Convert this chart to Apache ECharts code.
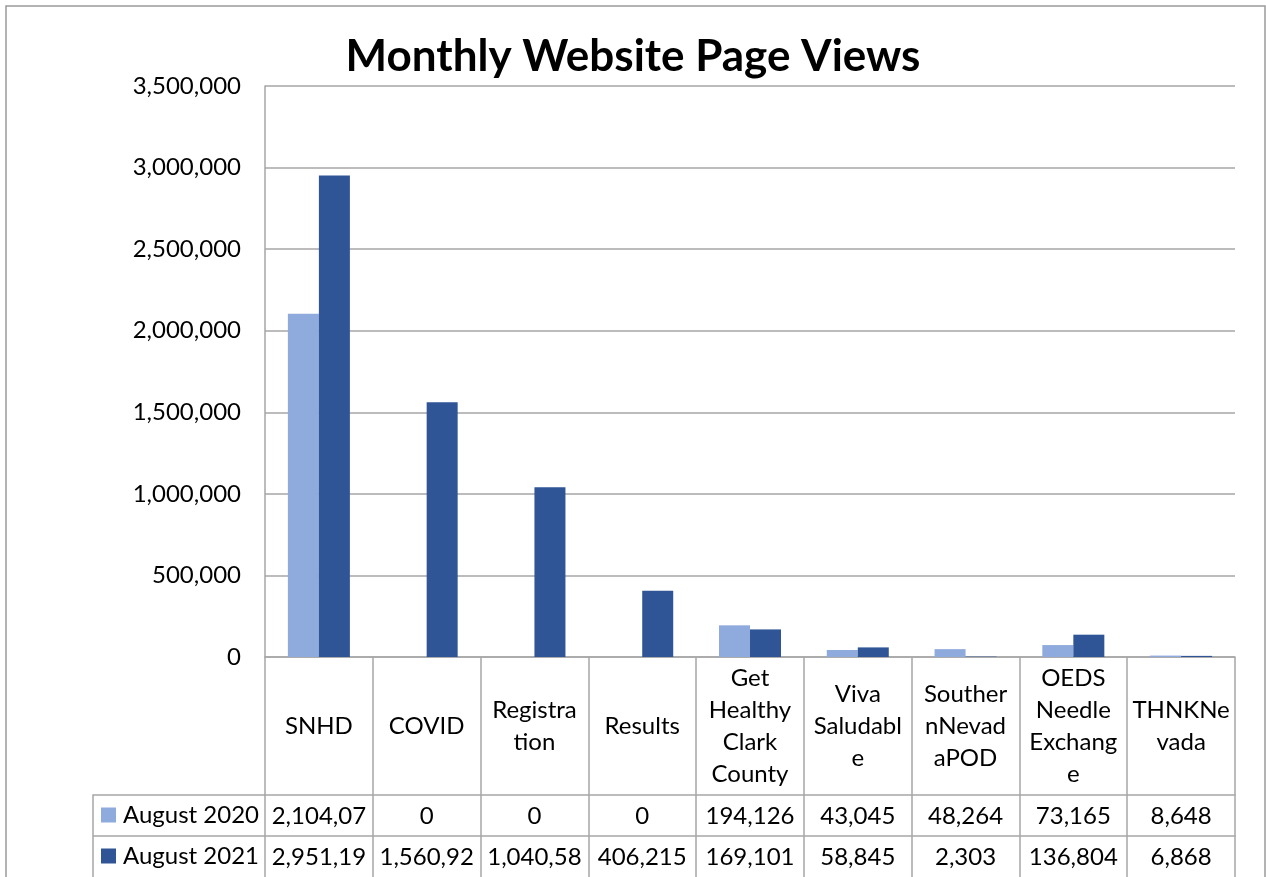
<!DOCTYPE html>
<html>
<head>
<meta charset="utf-8">
<title>Monthly Website Page Views</title>
<script src="https://cdn.jsdelivr.net/npm/echarts@6/dist/echarts.min.js"></script>
<style>
  html, body { margin: 0; padding: 0; background: #fff; }
  #main { width: 1266px; height: 877px; }
</style>
</head>
<body>
<div id="main"></div>
<script>
// 数据
var categories = ['SNHD', 'COVID', 'Registra\ntion', 'Results', 'Get\nHealthy\nClark\nCounty',
	'Viva\nSaludabl\ne', 'Souther\nnNevad\naPOD', 'OEDS\nNeedle\nExchang\ne', 'THNKNe\nvada'];
var aug2020 = [2104070, 0, 0, 0, 194126, 43045, 48264, 73165, 8648];
var aug2021 = [2951190, 1560920, 1040580, 406215, 169101, 58845, 2303, 136804, 6868];
var seriesNames = ['August 2020', 'August 2021'];
var colors = ['#8faadc', '#2f5597'];

var font = 'Lato, "Open Sans", sans-serif';
var gridColor = '#a6a6a6';

function fmt(v) {
	return String(v).replace(/\B(?=(\d{3})+(?!\d))/g, ',');
}
// 单元格宽度有限，超出的部分被裁掉（和原表一样）
function clip(s) {
	return s.length > 8 ? s.slice(0, 8) : s;
}

function rowAxis(offset, values) {
	return {
		type: 'category',
		position: 'bottom',
		offset: offset,
		data: categories,
		axisLine: { show: true, lineStyle: { color: gridColor, width: 1.5 } },
		axisTick: { show: false },
		axisLabel: {
			interval: 0,
			margin: 21,
			verticalAlign: 'middle',
			color: '#000',
			fontFamily: font,
			fontSize: 24,
			formatter: function(v, i) { return clip(fmt(values[i])); }
		}
	};
}

var myChart = echarts.init(document.getElementById('main'));
var option = {
	animation: false,
	backgroundColor: '#fff',
	title: {
		text: 'Monthly Website Page Views',
		left: 'center',
		top: 30,
		textStyle: { fontFamily: font, fontSize: 44, fontWeight: 'bold', color: '#000' }
	},
	legend: {
		orient: 'vertical',
		left: 101,
		top: 803,
		height: 80,
		padding: 0,
		icon: 'rect',
		itemWidth: 15,
		itemHeight: 15,
		itemGap: 17,
		data: seriesNames,
		textStyle: { fontFamily: font, fontSize: 24, color: '#000', lineHeight: 24, padding: [0, 0, 0, 2] }
	},
	grid: { left: 265, right: 31, top: 86, bottom: 220 },
	xAxis: [
		{
			type: 'category',
			data: categories,
			axisLine: { show: true, lineStyle: { color: gridColor, width: 1.5 } },
			axisTick: { show: true, length: 222, interval: 0, lineStyle: { color: gridColor, width: 1.5 } },
			axisLabel: {
				interval: 0,
				margin: 69,
				verticalAlign: 'middle',
				color: '#000',
				fontFamily: font,
				fontSize: 24,
				lineHeight: 32
			}
		},
		rowAxis(138, aug2020),
		rowAxis(179, aug2021)
	],
	yAxis: {
		type: 'value',
		min: 0,
		max: 3500000,
		interval: 500000,
		axisLine: { show: true, lineStyle: { color: gridColor, width: 1.5 } },
		axisTick: { show: false },
		splitLine: { lineStyle: { color: gridColor, width: 1.5 } },
		axisLabel: {
			margin: 24,
			color: '#000',
			fontFamily: font,
			fontSize: 24,
			formatter: function(v) { return fmt(v); }
		}
	},
	series: [
		{
			name: seriesNames[0],
			type: 'bar',
			barWidth: 31,
			barGap: '0%',
			itemStyle: { color: colors[0] },
			data: aug2020
		},
		{
			name: seriesNames[1],
			type: 'bar',
			barWidth: 31,
			barGap: '0%',
			itemStyle: { color: colors[1] },
			data: aug2021
		}
	],
	// 图表外框和图例那一列的表格线
	graphic: [
		{
			type: 'rect',
			silent: true,
			shape: { x: 6, y: 6, width: 1259, height: 900 },
			style: { fill: 'none', stroke: '#9a9a9a', lineWidth: 1.5 }
		},
		{
			type: 'polyline',
			silent: true,
			shape: { points: [[265, 795], [93, 795], [93, 877]] },
			style: { fill: 'none', stroke: gridColor, lineWidth: 1.5 }
		},
		{
			type: 'line',
			silent: true,
			shape: { x1: 93, y1: 836, x2: 265, y2: 836 },
			style: { stroke: gridColor, lineWidth: 1.5 }
		}
	]
};
option && myChart.setOption(option);
window.onresize = function() {
	myChart.resize();
};
</script>
</body>
</html>
